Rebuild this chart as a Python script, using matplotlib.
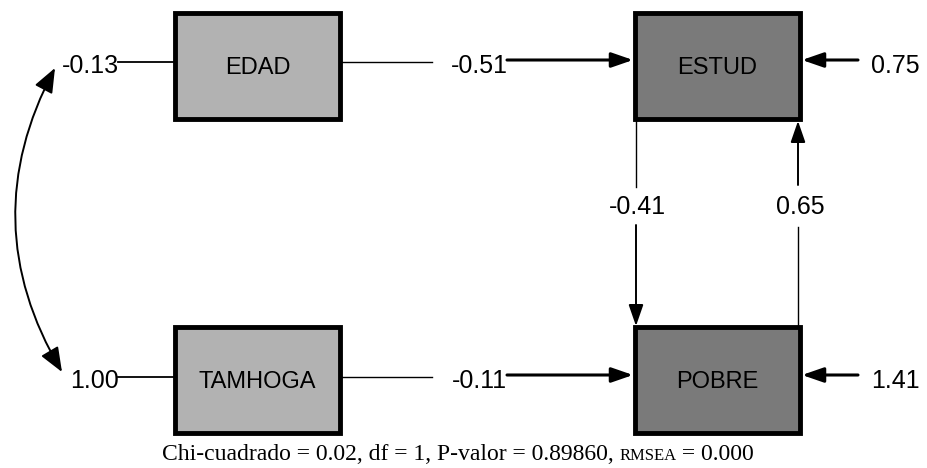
import matplotlib.pyplot as plt
from matplotlib.patches import Rectangle, FancyArrowPatch
from matplotlib.offsetbox import TextArea, HPacker, AnnotationBbox

# variables and path estimates
variables = ['EDAD', 'TAMHOGA', 'ESTUD', 'POBRE']
exogenous_var = ['-0.13', '1.00']          # EDAD, TAMHOGA
paths_to_endog = ['-0.51', '-0.11']        # EDAD->ESTUD, TAMHOGA->POBRE
errors = ['0.75', '1.41']                  # ESTUD, POBRE
estud_to_pobre = '-0.41'
pobre_to_estud = '0.65'
fit_parts = ['Chi-cuadrado = 0.02, df = 1, P-valor = 0.89860, ', 'RMSEA', ' = 0.000']

# layout (pixel coordinates)
boxes = {'EDAD': (175, 13), 'TAMHOGA': (175, 327), 'ESTUD': (635, 13), 'POBRE': (635, 327)}
bw, bh = 165, 106
fills = {'EDAD': '#b2b2b2', 'TAMHOGA': '#b2b2b2', 'ESTUD': '#7a7a7a', 'POBRE': '#7a7a7a'}
row_y = [62, 377]

fig = plt.figure(figsize=(9.27, 4.68), dpi=100)
ax = fig.add_axes([0, 0, 1, 1])
ax.set_xlim(0, 927)
ax.set_ylim(468, 0)
ax.axis('off')

sans = 'Liberation Sans'
fs_box = 17
fs = 18

for name in variables:
    x, y = boxes[name]
    ax.add_patch(Rectangle((x, y), bw, bh, facecolor=fills[name], edgecolor='black', lw=3.5, zorder=2))
    ax.text(x + bw / 2, y + bh / 2 + 2, name, ha='center', va='center', fontsize=fs_box,
            family=sans, zorder=3)

def arrow(x0, y0, x1, y1, lw=2.0):
    ax.annotate('', xy=(x1, y1), xytext=(x0, y0),
                arrowprops=dict(arrowstyle='-|>,head_length=1.3,head_width=0.45',
                                color='black', lw=lw, shrinkA=0, shrinkB=0), zorder=4)

for i, y in enumerate(row_y):
    # variance label and line into exogenous box
    ax.text(119, y + 4, exogenous_var[i], ha='right', va='center', fontsize=fs, family=sans)
    ax.plot([118, 175], [y, y], color='black', lw=1.3)
    # path to endogenous variable
    ax.plot([340, 432], [y, y], color='black', lw=1.0)
    ax.text(479, y + 4, paths_to_endog[i], ha='center', va='center', fontsize=fs, family=sans)
    arrow(507, y - 2, 633, y - 2, lw=2.2)
    # error term
    arrow(858, y - 2, 802, y - 2, lw=2.2)
    ax.text(871, y + 4, errors[i], ha='left', va='center', fontsize=fs, family=sans)

# ESTUD -> POBRE
ax.plot([636, 636], [119, 187], color='black', lw=1.0)
ax.text(637, 207, estud_to_pobre, ha='center', va='center', fontsize=fs, family=sans)
arrow(636, 225, 636, 326, lw=1.4)
# POBRE -> ESTUD
ax.plot([798, 798], [326, 227], color='black', lw=1.0)
ax.text(800, 207, pobre_to_estud, ha='center', va='center', fontsize=fs, family=sans)
arrow(798, 185, 798, 121, lw=1.4)

# covariance between exogenous variables
ax.add_patch(FancyArrowPatch((55, 68), (62, 372), connectionstyle='arc3,rad=0.28',
                             arrowstyle='<|-|>,head_length=15,head_width=6',
                             color='black', lw=1.4, shrinkA=0, shrinkB=0))

# fit statistics, RMSEA in small capitals
sizes = [17, 12, 17]
pack = HPacker(children=[TextArea(s, textprops=dict(fontsize=sz, family='Liberation Serif'))
                         for s, sz in zip(fit_parts, sizes)],
               align='baseline', pad=0, sep=0)
ax.add_artist(AnnotationBbox(pack, (458, 455), frameon=False, box_alignment=(0.5, 0.5)))

fig.savefig('out.png', dpi=100)
